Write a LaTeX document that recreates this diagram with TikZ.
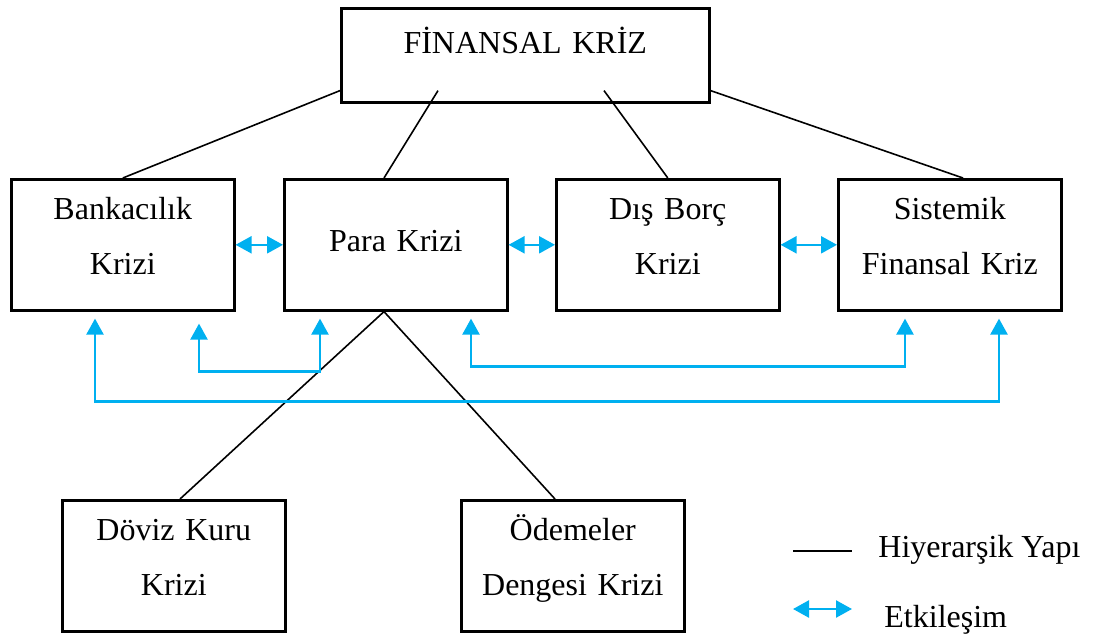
\documentclass[tikz,border=0pt]{standalone}
\usepackage{fontspec}
\setmainfont{Liberation Serif}
\usetikzlibrary{arrows.meta}
\usetikzlibrary{calc}
\definecolor{etkmavi}{HTML}{00B0F0}

\begin{document}
\begin{tikzpicture}[x=0.5pt,y=-0.5pt,
  yazi/.style={font=\fontsize{16}{27.5}\selectfont},
  kutu/.style={yazi,draw,line width=1.3pt,inner sep=0pt,text width=111.5pt,align=center,anchor=north west},
  iki/.style={kutu,text height=20pt,text depth=45.5pt},
  hiy/.style={line width=0.8pt},
  etk/.style={etkmavi,line width=1.2pt,{Triangle[length=8pt,width=8.5pt]}-{Triangle[length=8pt,width=8.5pt]}}]

\useasboundingbox (0,0) rectangle (1098,633);

\node[kutu,text width=184pt,text height=22.5pt,text depth=24.5pt] (fk) at (340,7) {FİNANSAL KRİZ};
\node[iki] (bank) at (10,178) {Bankacılık\\Krizi};
\node[kutu,text height=36pt,text depth=29.5pt] (para) at (283,178) {Para Krizi};
\node[iki] (dis) at (555,178) {Dış Borç\\Krizi};
\node[iki] (sis) at (837,178) {Sistemik\\Finansal Kriz};
\node[iki] (doviz) at (61,499) {Döviz Kuru\\Krizi};
\node[iki] (odeme) at (460,499) {Ödemeler\\Dengesi Krizi};

% hiyerarsi
\coordinate (fk1) at ($(fk.south west)+(0,-13)$);
\coordinate (fk2) at ($(fk.south west)+(98,-13)$);
\coordinate (fk3) at ($(fk.south west)+(264,-13)$);
\coordinate (fk4) at ($(fk.south east)+(0,-13)$);
\coordinate (pu) at ($(para.north west)+(101,0)$);
\coordinate (su) at ($(sis.north west)+(126,0)$);
\coordinate (pa) at ($(para.south west)+(101,0)$);
\coordinate (du) at ($(doviz.north west)+(119,0)$);
\coordinate (ou) at ($(odeme.north west)+(95,0)$);

\foreach \i/\j in {fk1/bank.north, fk2/pu, fk3/dis.north, fk4/su, pa/du, pa/ou}
    \draw[hiy] (\i) -- (\j);

% etkilesim
\foreach \i/\j in {bank/para, para/dis, dis/sis}
    \draw[etk] (\i.east) -- (\j.west);

\coordinate (a1) at ($(bank.south west)+(189,12)$);
\coordinate (a2) at ($(para.south west)+(37,7)$);
\coordinate (b1) at ($(para.south west)+(188,7)$);
\coordinate (b2) at ($(sis.south west)+(68,7)$);
\coordinate (c1) at ($(bank.south west)+(85,7)$);
\coordinate (c2) at ($(sis.south west)+(162,7)$);
\draw[etk] (a1) -- ++(0,48) -| (a2);
\draw[etk] (b1) -- ++(0,48) -| (b2);
\draw[etk] (c1) -- ++(0,83) -| (c2);

% lejant
\coordinate (l1) at (793,551);
\coordinate (l2) at (852,551);
\coordinate (l3) at (793,609);
\coordinate (l4) at (852,609);
\draw[hiy] (l1) -- (l2);
\draw[etk] (l3) -- (l4);
\node[yazi,anchor=base west,inner sep=0pt] (hiyt) at (878,557) {Hiyerarşik Yapı};
\node[yazi,anchor=base west,inner sep=0pt] (etkt) at (884,627) {Etkileşim};
%
\end{tikzpicture}
\end{document}
